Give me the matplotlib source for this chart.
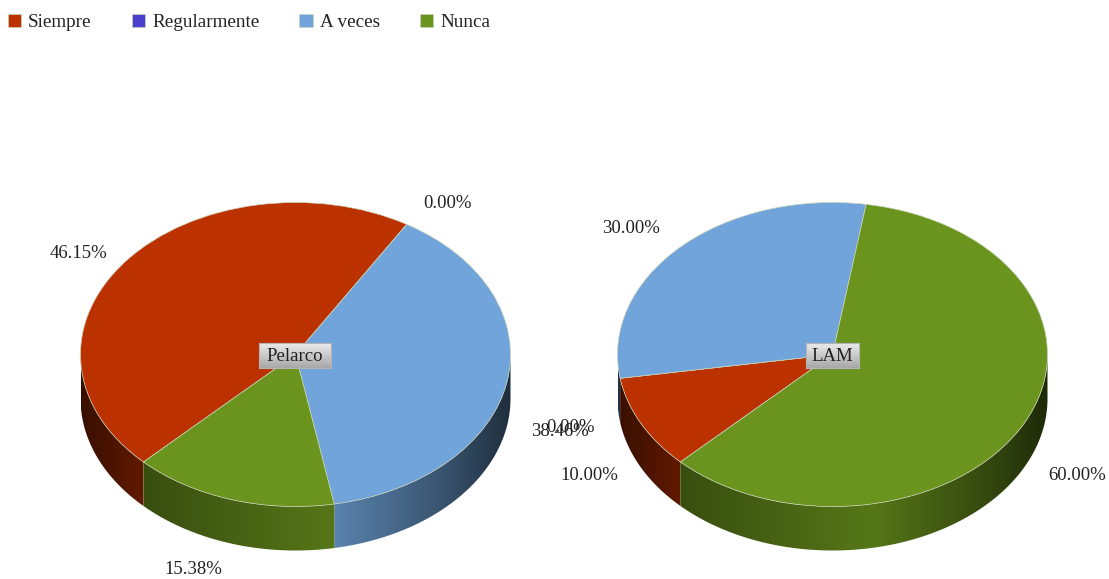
import numpy as np
import matplotlib
matplotlib.use('Agg')
import matplotlib.pyplot as plt
from matplotlib.patches import Polygon

# ____________________________________________________________
# data

categories = ['Siempre', 'Regularmente', 'A veces', 'Nunca']
colors = ['#bb3100', '#4a3fcf', '#70a4da', '#6b941e']
pelarco = [46.15, 0.00, 38.46, 15.38]
lam = [10.00, 0.00, 30.00, 60.00]

W, H = 1109, 579
START = 225
DEPTH = 44 / 152

plt.rcParams['font.family'] = ['Liberation Serif', 'DejaVu Serif']
fig = plt.figure(figsize=(W / 100, H / 100), dpi=100)


def shade(u):
    # side brightness, by horizontal position on the pie
    return np.interp(u, [-1, -0.7, 0.18, 0.7, 1], [0.3, 0.53, 0.8, 0.5, 0.28])


def pie3d(values, cx, cy, rx, ry, name, box_x, box_w):
    ylo, yhi = -1.32, 1.02
    xlim = 1.02
    left = (cx - xlim * rx) / W
    bottom = (H - (cy - ylo * ry)) / H
    ax = fig.add_axes([left, bottom, 2 * xlim * rx / W, (yhi - ylo) * ry / H])

    wedges, _ = ax.pie(values, colors=colors, startangle=START, counterclock=False,
                       wedgeprops=dict(edgecolor='#c9d3b8', linewidth=0.5, zorder=3))

    # side wall, slice by slice
    u = np.linspace(-1, 1, 430)
    angle = START
    for v, c in zip(values, colors):
        a1 = angle
        a2 = angle - v * 3.6
        angle = a2
        if v == 0:
            continue
        t = np.radians(np.linspace(a2, a1, int(v * 8) + 2))
        t = t[np.sin(t) <= 0]
        if len(t) < 2:
            continue
        top = np.column_stack([np.cos(t), np.sin(t)])
        low = (top - [0, DEPTH])[::-1]
        wall = Polygon(np.vstack([top, low]), closed=True, transform=ax.transData,
                       facecolor='none', edgecolor='none')
        ax.add_patch(wall)
        rgb = np.array(matplotlib.colors.to_rgb(c))
        img = (shade(u)[:, None] * rgb)[None, :, :]
        im = ax.imshow(img, extent=[-1, 1, ylo, yhi], aspect='auto', zorder=1,
                       interpolation='bilinear')
        im.set_clip_path(wall)

    ax.set_aspect('auto')
    ax.set_xlim(-xlim, xlim)
    ax.set_ylim(ylo, yhi)
    ax.set_axis_off()

    # name box in the middle
    y0, y1 = 343, 368
    bx = fig.add_axes([box_x / W, (H - y1) / H, box_w / W, (y1 - y0) / H], zorder=5)
    bx.imshow(np.linspace(0.92, 0.66, 30).reshape(-1, 1), cmap='gray', vmin=0, vmax=1,
              aspect='auto', extent=[0, 1, 0, 1])
    bx.set_xticks([])
    bx.set_yticks([])
    for s in bx.spines.values():
        s.set_color('#b5b5b5')
        s.set_linewidth(0.8)
    bx.text(0.5, 0.47, name, ha='center', va='center', fontsize=13.5, color='#222222')
    return wedges


wedges = pie3d(pelarco, 295.5, 354.5, 215, 152, 'Pelarco', 259, 72)
pie3d(lam, 832.5, 354.5, 215, 152, 'LAM', 806, 53)


def label(x, y, v):
    fig.text(x / W, 1 - y / H, '%.2f%%' % v, ha='center', va='center',
             fontsize=13.5, color='#222222', zorder=6)


label(78, 254, pelarco[0])
label(447, 203, pelarco[1])
label(560, 431, pelarco[2])
label(193, 570, pelarco[3])
label(589, 475, lam[0])
label(570, 427, lam[1])
label(631, 228, lam[2])
label(1077, 475, lam[3])

# ____________________________________________________________
# legend

fig.legend(wedges, categories, ncol=4, loc='upper left', bbox_to_anchor=(0 / W, 1 - 6 / H),
           frameon=False, fontsize=13.8, labelcolor='#222222', handlelength=0.7,
           handleheight=0.7, handletextpad=0.37, columnspacing=2.08, borderaxespad=0)

fig.savefig('out.png', dpi=100)
